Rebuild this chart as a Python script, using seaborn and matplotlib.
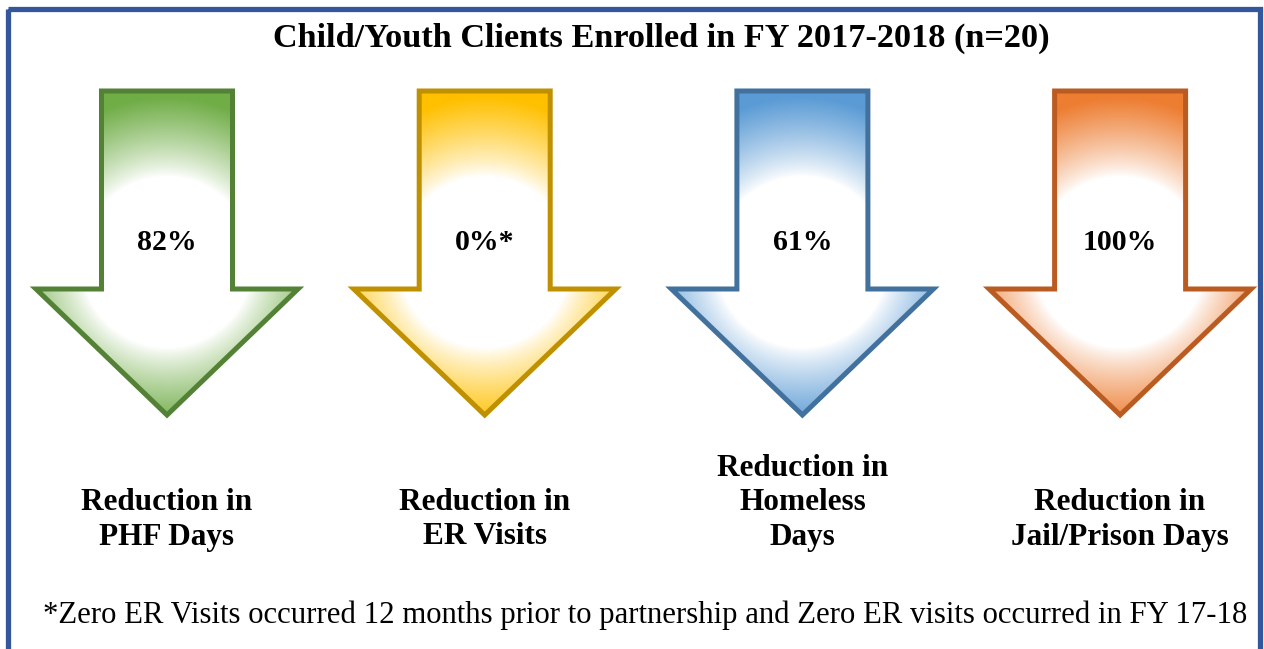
import numpy as np
import matplotlib
matplotlib.use("Agg")
import matplotlib.pyplot as plt
from matplotlib.patches import Polygon, Rectangle
from matplotlib.colors import to_rgb
import seaborn as sns

# ---- data -------------------------------------------------------------
categories = ["Reduction in\nPHF Days",
              "Reduction in\nER Visits",
              "Reduction in\nHomeless\nDays",
              "Reduction in\nJail/Prison Days"]
reductions = [82, 0, 61, 100]
value_labels = ["82%", "0%*", "61%", "100%"]
title = "Child/Youth Clients Enrolled in FY 2017-2018 (n=20)"
footnote = ("*Zero ER Visits occurred 12 months prior to partnership "
            "and Zero ER visits occurred in FY 17-18")

# ---- style ------------------------------------------------------------
sns.set_theme(style="white")
plt.rcParams["font.family"] = ["Liberation Serif", "DejaVu Serif"]

fills = sns.color_palette(["#70AD47", "#FFC000", "#5B9BD5", "#ED7D31"])
edges = sns.color_palette(["#538135", "#BF9000", "#41719C", "#BA5B22"])
frame_color = "#33579A"

W, H = 1264, 649
fig = plt.figure(figsize=(W / 100, H / 100), dpi=100)
ax = fig.add_axes([0, 0, 1, 1])
ax.set_axis_off()

# category index on x, pixel rows on y
step = 317.7                     # pixels per category
x_first = 167.0                  # pixel centre of first category
xmin = -x_first / step
xmax = (W - x_first) / step
ax.set_xlim(xmin, xmax)
ax.set_ylim(H, 0)
px = (xmax - xmin) / W           # data units per pixel along x

# arrow outline (pixel offsets from category centre)
shaft_half, head_half = 65.5, 131.0
top_y, shoulder_y, tip_y = 91.0, 289.0, 415.0
glow_cy, r_in, r_out = 262.0, 86.0, 165.0

def arrow_xy(i):
    pts = [(-shaft_half, top_y), (shaft_half, top_y), (shaft_half, shoulder_y),
           (head_half, shoulder_y), (0, tip_y), (-head_half, shoulder_y),
           (-shaft_half, shoulder_y)]
    return [(i + dx * px, y) for dx, y in pts]

for i, (cat, val, lab) in enumerate(zip(categories, reductions, value_labels)):
    poly = Polygon(arrow_xy(i), closed=True, facecolor="none",
                   edgecolor=edges[i], linewidth=3.6, joinstyle="miter", zorder=3)
    ax.add_patch(poly)

    # radial white-centred glow inside the arrow
    xs = np.arange(-head_half - 4, head_half + 4, 1.0)
    ys = np.arange(top_y - 4, tip_y + 4, 1.0)
    X, Y = np.meshgrid(xs, ys)
    r = np.hypot(X, Y - glow_cy)
    t = np.clip((r - r_in) / (r_out - r_in), 0, 1)
    t = t ** 0.85
    c = np.array(to_rgb(fills[i]))
    img = 1 - t[..., None] * (1 - c)
    im = ax.imshow(img, extent=(i + xs[0] * px, i + xs[-1] * px, ys[-1], ys[0]),
                   origin="upper", aspect="auto", interpolation="bilinear", zorder=2)
    clip = Polygon(arrow_xy(i), closed=True, transform=ax.transData)
    im.set_clip_path(clip)

    ax.text(i, 243, lab, ha="center", va="center", fontsize=21.5,
            fontweight="bold", color="black", zorder=4)

    lines = cat.split("\n")
    n = len(lines)
    for k, line in enumerate(lines):
        ax.text(i, 537 - (n - 1 - k) * 34.5, line, ha="center", va="center",
                fontsize=22.5, fontweight="bold", color="black", zorder=4)

ax.set_xlim(xmin, xmax)
ax.set_ylim(H, 0)

# outer frame
ax.add_patch(Rectangle((xmin + 7.5 * px, 8.5), (1260 - 7.5) * px, 700,
                       facecolor="none", edgecolor=frame_color, linewidth=3.8,
                       zorder=5, clip_on=False))

t_title = ax.text(xmin + 661 * px, 38.5, title, ha="center", va="center",
                  fontsize=22, fontweight="bold", color="black")
t_foot = ax.text(xmin + 645 * px, 615, footnote, ha="center", va="center",
                 fontsize=20, color="black")

# size the title and footnote to their widths
fig.canvas.draw()
renderer = fig.canvas.get_renderer()
for txt, target in [(t_title, 777), (t_foot, 1206)]:
    w = txt.get_window_extent(renderer).width
    txt.set_fontsize(txt.get_fontsize() * target / w)

fig.savefig("out.png", dpi=100)
